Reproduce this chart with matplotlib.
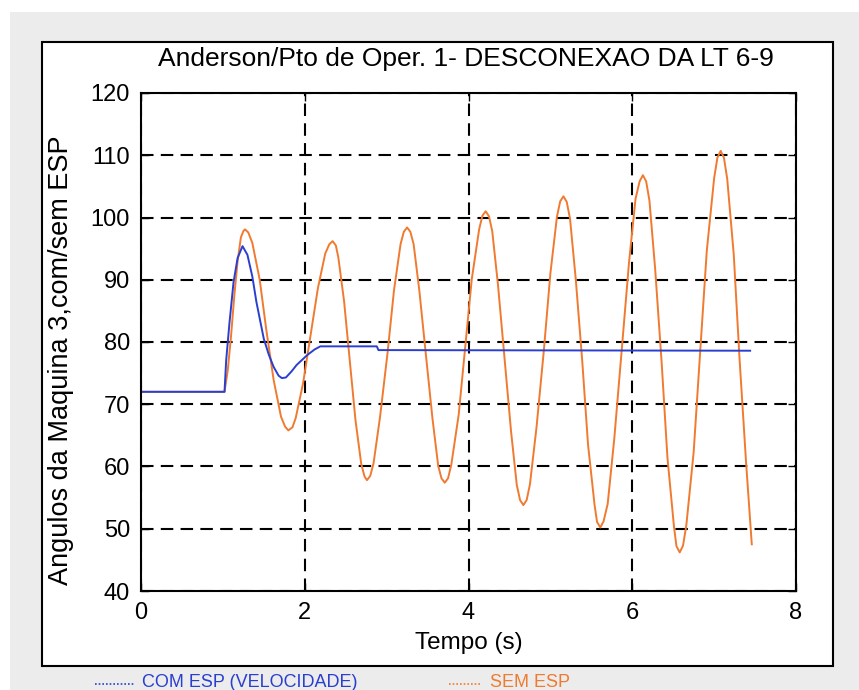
"""
plot.py
Anderson / Pto de Oper. 1 - angle of machine 3 with and without ESP.
"""

import matplotlib
matplotlib.use("Agg")
import matplotlib.pyplot as plt
import matplotlib.patches as mpatches
from matplotlib.lines import Line2D

plt.rcParams["font.family"] = ["Liberation Sans", "DejaVu Sans"]

# COM ESP (VELOCIDADE) - blue
t_com = [0.00, 1.02, 1.04, 1.08, 1.13, 1.18, 1.24, 1.30, 1.36, 1.41, 1.50,
         1.56, 1.62, 1.68, 1.72, 1.77, 1.84, 1.90, 2.03, 2.12, 2.19, 2.88,
         2.90, 7.44]
ang_com = [72.0, 72.0, 77.0, 83.0, 89.6, 93.5, 95.4, 94.0, 90.5, 86.4, 80.5,
           78.0, 76.0, 74.6, 74.2, 74.3, 75.3, 76.3, 77.9, 78.8, 79.3, 79.3,
           78.7, 78.6]

# SEM ESP - orange
t_sem = [0.00, 1.02, 1.06, 1.10, 1.14, 1.18, 1.22, 1.25, 1.27, 1.31,
         1.36, 1.45, 1.53, 1.62, 1.71, 1.76, 1.80, 1.85,
         1.89, 1.98, 2.07, 2.16, 2.25, 2.30, 2.34, 2.38,
         2.41, 2.48, 2.55, 2.62, 2.69, 2.73, 2.76, 2.80,
         2.84, 2.92, 3.01, 3.09, 3.17, 3.21, 3.25, 3.29,
         3.33, 3.40, 3.48, 3.56, 3.63, 3.67, 3.71, 3.75,
         3.79, 3.88, 3.96, 4.04, 4.13, 4.17, 4.21, 4.25,
         4.29, 4.36, 4.44, 4.52, 4.59, 4.63, 4.67, 4.71,
         4.75, 4.83, 4.92, 5.00, 5.08, 5.12, 5.16, 5.20,
         5.24, 5.31, 5.39, 5.46, 5.54, 5.57, 5.61, 5.65,
         5.70, 5.78, 5.87, 5.96, 6.04, 6.09, 6.13, 6.17,
         6.21, 6.28, 6.36, 6.43, 6.51, 6.54, 6.58, 6.62,
         6.66, 6.75, 6.83, 6.91, 7.00, 7.04, 7.08, 7.12,
         7.16, 7.24, 7.31, 7.39, 7.46]
ang_sem = [72.0, 72.0, 75.5, 81.0, 87.5, 93.0, 96.8, 97.8, 98.1, 97.6,
           95.9, 90.0, 82.0, 73.9, 68.0, 66.4, 65.8, 66.3,
           67.8, 73.4, 81.0, 88.6, 94.2, 95.7, 96.2, 95.5,
           93.6, 86.6, 77.0, 67.4, 60.4, 58.4, 57.8, 58.5,
           60.5, 68.0, 78.1, 88.3, 95.7, 97.7, 98.4, 97.7,
           95.7, 88.2, 77.9, 67.7, 60.1, 58.1, 57.4, 58.1,
           60.3, 68.3, 79.2, 90.1, 98.1, 100.3, 101.0, 100.2,
           97.8, 89.2, 77.4, 65.6, 57.0, 54.6, 53.8, 54.6,
           57.1, 66.2, 78.6, 91.0, 100.1, 102.6, 103.4, 102.5,
           99.8, 90.1, 76.8, 63.5, 53.8, 51.1, 50.2, 51.2,
           54.0, 64.4, 78.5, 92.7, 103.0, 105.8, 106.8, 105.8,
           102.7, 91.7, 76.5, 61.4, 50.3, 47.2, 46.2, 47.3,
           50.5, 62.3, 78.5, 94.6, 106.3, 109.6, 110.7, 109.6,
           106.2, 94.0, 77.4, 60.7, 47.5]

x_ticks = [0, 2, 4, 6, 8]
y_ticks = [40, 50, 60, 70, 80, 90, 100, 110, 120]

W, H = 859, 690
fig = plt.figure(figsize=(W / 100, H / 100), dpi=100, facecolor="white")

# scanned page background and the white figure frame
fig.patches.append(mpatches.Rectangle(
    (10 / W, 0), 1 - 10 / W, 1 - 12 / H, transform=fig.transFigure,
    facecolor="#ececec", edgecolor="none", zorder=0))
fig.patches.append(mpatches.Rectangle(
    (42 / W, 1 - 666 / H), 791 / W, 624 / H, transform=fig.transFigure,
    facecolor="white", edgecolor="black", lw=1.5, zorder=1))

ax = fig.add_axes([141 / W, 1 - 591 / H, 655 / W, 498 / H])
ax.set_zorder(2)

ax.plot(t_sem, ang_sem, color="#f07a30", lw=1.4)
ax.plot(t_com, ang_com, color="#2a3fd0", lw=1.4)

ax.set_xlim(0, 8)
ax.set_ylim(40, 120)
ax.set_xticks(x_ticks)
ax.set_yticks(y_ticks)
ax.tick_params(direction="in", length=6, width=1, top=True, right=True,
               labelsize=17, pad=8)
ax.grid(True, color="black", linestyle=(0, (6, 3.5)), lw=1.5)
for s in ax.spines.values():
    s.set_linewidth(1.5)

ax.set_xlabel("Tempo (s)", fontsize=17.5, labelpad=6)
ax.set_ylabel("Angulos da Maquina 3,com/sem ESP", fontsize=19.5)
ax.yaxis.set_label_coords(-0.102, 0.464)

fig.text(466 / W, 1 - 59 / H, "Anderson/Pto de Oper. 1- DESCONEXAO DA LT 6-9",
         ha="center", va="center", fontsize=19, zorder=3)

# legend under the frame
narrow = ["Liberation Sans Narrow", "Liberation Sans", "DejaVu Sans"]
fig.add_artist(Line2D([95 / W, 134 / W], [1 - 684 / H] * 2, color="#2a3fd0",
                      lw=1.2, linestyle=(0, (1, 1.2)), transform=fig.transFigure))
fig.text(142 / W, 1 - 687 / H, "COM ESP (VELOCIDADE)", color="#2a3fd0",
         fontsize=13, family=narrow, va="baseline")
fig.add_artist(Line2D([449 / W, 482 / W], [1 - 684 / H] * 2, color="#f07a30",
                      lw=1.2, linestyle=(0, (1, 1.2)), transform=fig.transFigure))
fig.text(490 / W, 1 - 687 / H, "SEM ESP", color="#f07a30",
         fontsize=13, family=narrow, va="baseline")

fig.savefig("out.png", dpi=100, facecolor="white")
